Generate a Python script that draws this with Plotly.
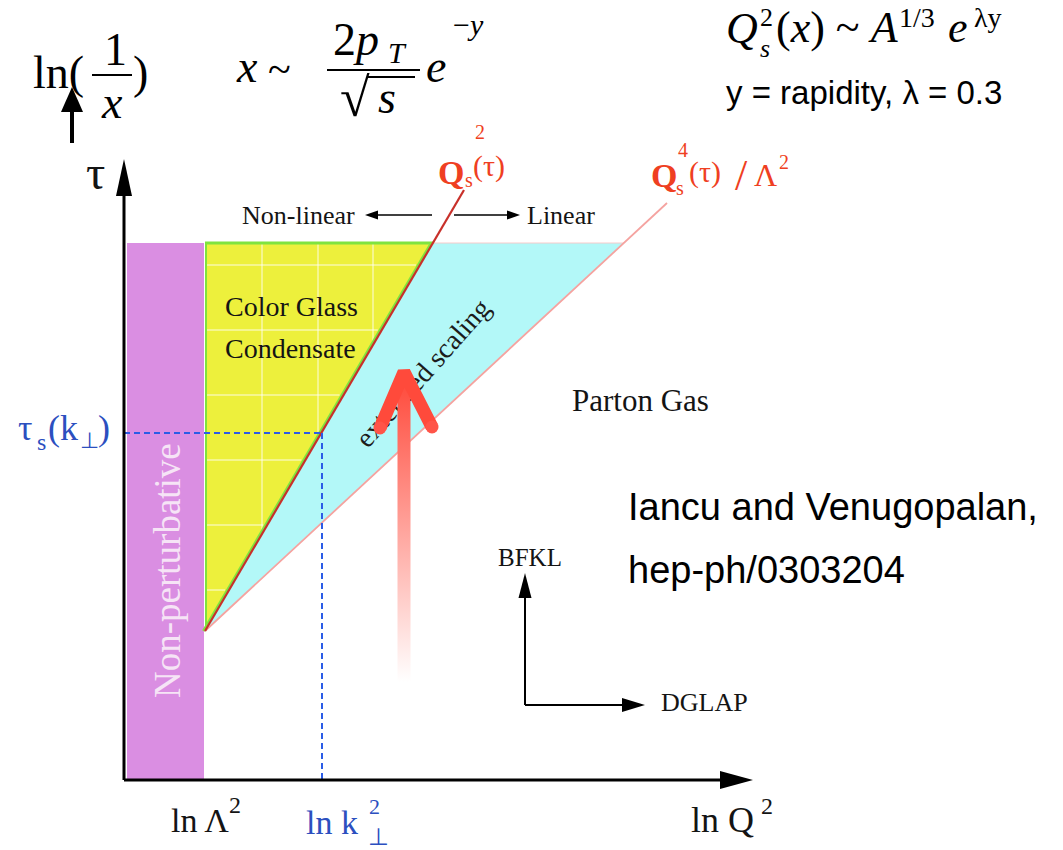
import math
import plotly.graph_objects as go

# ---------------- data (diagram units: u = ln Q^2, v = tau, origin at axes corner) ----------------
LN_LAMBDA2 = 81          # ln Lambda^2
LN_K2 = 198              # ln k_perp^2
TAU_S = 347              # tau_s(k_perp)
TAU_TOP = 537            # top of drawn regions
TAU_0 = 149              # tau where saturation lines start
qs2_u = [81, 340]        # Q_s^2(tau) boundary
qs2_tau = [149, 590]
qs4_u = [81, 543]        # Q_s^4(tau)/Lambda^2 boundary
qs4_tau = [149, 577]
nonpert_u = [3, 80]      # non-perturbative band
grid_u = [138, 194, 249]
grid_tau = [515, 450, 385, 320, 255, 190]
axis_u_max = 629
axis_tau_max = 621
evo_origin = (401, 75)   # BFKL / DGLAP mini axes
evo_bfkl_tau = 207
evo_dglap_u = 521
red_arrow_u = 280
red_arrow_tau = [98, 408]
red_arrow_arms_u = [256, 308]
red_arrow_arms_tau = [352, 353]

SERIF = "Liberation Serif, Times New Roman, serif"
SANS = "Liberation Sans, Arial, sans-serif"
INK = "#141414"
PURPLE = "#DA8EE2"
YELLOW = "#EDF03C"
CYAN = "#B3F8F8"
GREEN = "#7FE33F"
RED_LINE = "#C8302A"
PINK_LINE = "#F5A3A0"
BLUE = "#2B5CE6"
BLUE_TXT = "#2C4FBF"
RED_TXT = "#EF3F22"


def qs2_tau_at(u):
    s = (qs2_tau[1] - qs2_tau[0]) / (qs2_u[1] - qs2_u[0])
    return qs2_tau[0] + (u - qs2_u[0]) * s


def qs2_u_at(t):
    s = (qs2_tau[1] - qs2_tau[0]) / (qs2_u[1] - qs2_u[0])
    return qs2_u[0] + (t - qs2_tau[0]) / s


def qs4_u_at(t):
    s = (qs4_tau[1] - qs4_tau[0]) / (qs4_u[1] - qs4_u[0])
    return qs4_u[0] + (t - qs4_tau[0]) / s


cgc_top_u = qs2_u_at(TAU_TOP)
scal_top_u = qs4_u_at(TAU_TOP)

fig = go.Figure()
shapes = []


def path(us, vs):
    return "M " + " L ".join(f"{a},{b}" for a, b in zip(us, vs)) + " Z"


shapes.append(dict(type="path", xref="x", yref="y", layer="below",
                   path=path([nonpert_u[0], nonpert_u[1], nonpert_u[1], nonpert_u[0]], [0, 0, TAU_TOP, TAU_TOP]),
                   fillcolor=PURPLE, line=dict(width=0)))
shapes.append(dict(type="path", xref="x", yref="y", layer="below",
                   path=path([LN_LAMBDA2, cgc_top_u, LN_LAMBDA2], [TAU_TOP, TAU_TOP, TAU_0]),
                   fillcolor=YELLOW, line=dict(width=0)))
shapes.append(dict(type="path", xref="x", yref="y", layer="below",
                   path=path([LN_LAMBDA2, cgc_top_u, scal_top_u], [TAU_0, TAU_TOP, TAU_TOP]),
                   fillcolor=CYAN, line=dict(width=1, color="#F6CACA")))
# rotated label inside the scaling band (below traces so the red arrow covers it)
shapes.append(dict(type="line", xref="x", yref="y", layer="below",
                   x0=229, y0=333, x1=364, y1=485, line=dict(width=0, color="rgba(0,0,0,0)"),
                   label=dict(text="extended scaling", textposition="middle", yanchor="middle",
                              font=dict(family=SERIF, size=28, color="#1c1c1c"))))


def line(us, vs, color, width, dash=None):
    fig.add_trace(go.Scatter(x=us, y=vs, mode="lines", hoverinfo="skip", showlegend=False,
                             line=dict(color=color, width=width, dash=dash)))


def fill(us, vs, color):
    fig.add_trace(go.Scatter(x=us, y=vs, mode="lines", fill="toself", fillcolor=color, hoverinfo="skip",
                             showlegend=False, line=dict(width=0, color=color)))


def arrow(u0, v0, u1, v1, color, width, head_len, head_half):
    L = math.hypot(u1 - u0, v1 - v0)
    du, dv = (u1 - u0) / L, (v1 - v0) / L
    bu, bv = u1 - du * head_len, v1 - dv * head_len
    line([u0, bu + du], [v0, bv + dv], color, width)
    pu, pv = -dv, du
    fill([u1, bu + pu * head_half, bu - pu * head_half, u1],
         [v1, bv + pv * head_half, bv - pv * head_half, v1], color)


# grid in CGC region
for gu in grid_u:
    line([gu, gu], [qs2_tau_at(gu) + 4, TAU_TOP], "rgba(255,255,255,0.85)", 1)
for gt in grid_tau:
    line([LN_LAMBDA2, qs2_u_at(gt) - 4], [gt, gt], "rgba(255,255,255,0.85)", 1)

# green borders of CGC
line([LN_LAMBDA2, cgc_top_u], [TAU_TOP, TAU_TOP], GREEN, 3)
line([LN_LAMBDA2 + 1, LN_LAMBDA2 + 1], [TAU_0, TAU_TOP], GREEN, 2)
line([qs2_u[0] - 1.5, cgc_top_u - 1.5], [TAU_0, TAU_TOP], GREEN, 3)

# saturation boundaries
line(qs4_u, qs4_tau, PINK_LINE, 1.8)
line(qs2_u, qs2_tau, RED_LINE, 2.2)

# tau_s(k) construction
line([0, LN_K2], [TAU_S, TAU_S], BLUE, 2, "6px,4px")
line([LN_K2, LN_K2], [TAU_S, 0], BLUE, 2, "6px,4px")

# main axes
arrow(0, 0, 0, axis_tau_max, "black", 3, 37, 8)
arrow(0, 0, axis_u_max, 0, "black", 3, 33, 9)

# Non-linear / Linear arrows
arrow(308, 565, 241, 565, "black", 1.5, 13, 4.5)
arrow(330, 565, 396, 565, "black", 1.5, 13, 4.5)

# BFKL / DGLAP mini axes
arrow(evo_origin[0], evo_origin[1], evo_origin[0], evo_bfkl_tau, "black", 2, 25, 6.5)
arrow(evo_origin[0], evo_origin[1], evo_dglap_u, evo_origin[1], "black", 2, 23, 7)

# small arrow under ln(1/x)
arrow(-52, 637, -52, 693, "black", 4, 25, 11)

# red gradient arrow
hw = 6.5
fig.add_trace(go.Scatter(
    x=[red_arrow_u - hw, red_arrow_u + hw, red_arrow_u + hw, red_arrow_u - hw, red_arrow_u - hw],
    y=[red_arrow_tau[0], red_arrow_tau[0], red_arrow_tau[1] - 8, red_arrow_tau[1] - 8, red_arrow_tau[0]],
    mode="lines", fill="toself", line=dict(width=0), hoverinfo="skip", showlegend=False,
    fillgradient=dict(type="vertical", colorscale=[[0, "#FFFFFF"], [1, "#FF4536"]],
                      start=red_arrow_tau[0], stop=red_arrow_tau[1])))
fig.add_trace(go.Scatter(
    x=[red_arrow_arms_u[0], red_arrow_u, red_arrow_arms_u[1]],
    y=[red_arrow_arms_tau[0], red_arrow_tau[1], red_arrow_arms_tau[1]],
    mode="lines", line=dict(color="#FF4A3B", width=13), hoverinfo="skip", showlegend=False))
fig.add_trace(go.Scatter(
    x=red_arrow_arms_u, y=red_arrow_arms_tau, mode="markers",
    marker=dict(color="#FF5448", size=13, line=dict(width=0)), hoverinfo="skip", showlegend=False))

# ---------------- text ----------------
ann = []


def T(u, v, text, size, color=INK, family=SERIF, xanchor="center", angle=0):
    ann.append(dict(x=u, y=v, xref="x", yref="y", text=text, showarrow=False, borderpad=0,
                    font=dict(family=family, size=size, color=color),
                    xanchor=xanchor, yanchor="middle", textangle=angle))


# ln(1/x)
T(-92, 707.5, "ln(", 46, "black", xanchor="left")
T(8, 707.5, ")", 46, "black", xanchor="left")
T(-9, 730.5, "1", 46, "black")
T(-12, 677.5, "<i>x</i>", 46, "black")
line([-32, 8], [705, 705], "black", 2)

# x ~ 2 p_T / sqrt(s) e^{-y}
T(111, 713.5, "<i>x</i>", 46, "black", xanchor="left")
T(143, 711, "~", 42, "black", xanchor="left")
T(208, 740.5, "2<i>p</i>", 46, "black", xanchor="left")
T(263, 728, "<i>T</i>", 30, "black", xanchor="left")
line([203, 296], [710, 710], "black", 2)
T(231, 682, "√", 54, "black")
line([243, 291], [703, 703], "black", 2)
T(253, 682.5, "<i>s</i>", 46, "black", xanchor="left")
T(301, 713.5, "<i>e</i>", 46, "black", xanchor="left")
T(328, 756, "−<i>y</i>", 30, "black", xanchor="left")

# Q_s^2(x) ~ A^{1/3} e^{lambda y}
T(601, 752, "<i>Q</i>", 44, "black", xanchor="left")
T(635, 732, "<i>s</i>", 26, "black", xanchor="left")
T(635, 763, "2", 26, "black", xanchor="left")
T(651, 753, "(<i>x</i>) ~ <i>A</i>", 44, "black", xanchor="left")
T(774, 763, "1/3", 28, "black", xanchor="left")
T(823, 753, "<i>e</i>", 44, "black", xanchor="left")
T(849, 763, "λy", 28, "black", xanchor="left")
T(601, 688, "y = rapidity, λ = 0.3", 33, "black", SANS, xanchor="left")

# saturation line labels
T(313, 608, "<b>Q</b>", 34, RED_TXT, xanchor="left")
T(340, 600, "s", 20, RED_TXT, xanchor="left")
T(350, 648, "2", 20, RED_TXT, xanchor="left")
T(348, 614, "(τ)", 30, RED_TXT, xanchor="left")

T(526, 605, "<b>Q</b>", 34, RED_TXT, xanchor="left")
T(551, 592, "s", 20, RED_TXT, xanchor="left")
T(553, 630, "4", 20, RED_TXT, xanchor="left")
T(564, 608, "(τ)", 30, RED_TXT, xanchor="left")
T(617, 605, "/", 44, RED_TXT)
T(629, 605, "Λ", 32, RED_TXT, xanchor="left")
T(654, 618, "2", 20, RED_TXT, xanchor="left")

# Non-linear / Linear
T(174, 565, "Non-linear", 26)
T(437, 565, "Linear", 26)

# axes labels
T(-29, 608, "τ", 48)
T(-107, 352, "τ", 36, BLUE_TXT, xanchor="left")
T(-88, 338, "s", 24, BLUE_TXT, xanchor="left")
T(-77, 352, "(k", 36, BLUE_TXT, xanchor="left")
T(-45, 340, "⊥", 22, BLUE_TXT, xanchor="left")
T(-27, 352, ")", 36, BLUE_TXT, xanchor="left")
T(46, -40, "ln\u2009Λ", 34, xanchor="left")
T(104, -25, "2", 24, xanchor="left")
T(181, -42, "ln k", 34, BLUE_TXT, xanchor="left")
T(244, -26, "2", 22, BLUE_TXT, xanchor="left")
T(243, -57, "⊥", 24, BLUE_TXT, xanchor="left")
T(566, -40, "ln Q", 36, xanchor="left")
T(636, -26, "2", 24, xanchor="left")

# regions
T(100, 474, "Color Glass", 28, xanchor="left")
T(100, 432, "Condensate", 28, xanchor="left")
T(43, 209, "Non-perturbative", 37, "#F6E4F6", angle=-90)
T(516, 380, "Parton Gas", 31)

# citation
T(503, 273, "Iancu and Venugopalan,", 38, "black", SANS, xanchor="left")
T(503, 210, "hep-ph/0303204", 38, "black", SANS, xanchor="left")

# evolution directions
T(406, 223, "BFKL", 25)
T(580, 78, "DGLAP", 26)

fig.update_layout(
    width=1063, height=850, margin=dict(l=0, r=0, t=0, b=0),
    paper_bgcolor="white", plot_bgcolor="white", showlegend=False,
    xaxis=dict(range=[-124, 939], visible=False, fixedrange=True),
    yaxis=dict(range=[-70, 780], visible=False, fixedrange=True),
    shapes=shapes, annotations=ann,
)
# remove the default 8px page margin so the figure sits at the window's top-left corner
fig.write_html("out.html", config={"displayModeBar": False},
               post_script="document.body.style.margin='0px';")
